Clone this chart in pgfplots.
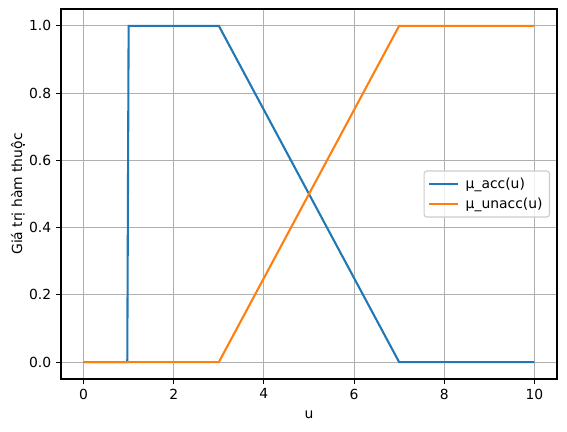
\documentclass[border=0pt]{standalone}
\usepackage{fontspec}
\setmainfont{DejaVu Sans}
\usepackage{pgfplots}
\pgfplotsset{compat=1.18}
\definecolor{c0}{HTML}{1F77B4}
\definecolor{c1}{HTML}{FF7F0E}
\definecolor{gridc}{HTML}{B0B0B0}
\definecolor{legc}{HTML}{CCCCCC}
\begin{document}
\begin{tikzpicture}[font=\fontsize{10bp}{12bp}\selectfont]
\begin{axis}[
  scale only axis, width=357.1bp, height=266.4bp,
  xmin=-0.5, xmax=10.5, ymin=-0.05, ymax=1.05,
  xtick={0,2,4,6,8,10}, ytick={0,0.2,0.4,0.6,0.8,1.0},
  /pgf/number format/assume math mode=true,
  yticklabel style={/pgf/number format/fixed, /pgf/number format/fixed zerofill, /pgf/number format/precision=1},
  grid=major, major grid style={gridc, line width=0.8bp},
  axis line style={line width=0.8bp},
  tick align=outside, major tick length=3.5bp, tick style={black, line width=0.8bp},
  xtick pos=bottom, ytick pos=left,
  xlabel={u}, ylabel={Giá trị hàm thuộc},
  xlabel shift=1.4bp, ylabel shift=-3.6bp,
  legend style={at={(1,0.5)}, anchor=east, xshift=-5bp, draw=legc, rounded corners=2bp,
    fill=white, fill opacity=0.8, text opacity=1, line width=0.8bp,
    font=\fontsize{10bp}{12bp}\selectfont, row sep=1bp, inner xsep=3bp, inner ysep=3bp},
  legend cell align=left,
  legend image code/.code={\draw[#1, line width=1.5bp] (0bp,0bp) -- (20.6bp,0bp); \path (23.5bp,0bp);},
]
\addplot[c0, line width=1.5bp] coordinates {(0,0) (0.97,0) (1,1) (3,1) (7,0) (10,0)};
\addlegendentry{µ\_acc(u)}
\addplot[c1, line width=1.5bp] coordinates {(0,0) (3,0) (7,1) (10,1)};
\addlegendentry{µ\_unacc(u)}
\end{axis}
\pgfresetboundingbox
\path (-43.92bp,-38.16bp) rectangle (364.32bp,272.88bp);
\end{tikzpicture}
\end{document}
